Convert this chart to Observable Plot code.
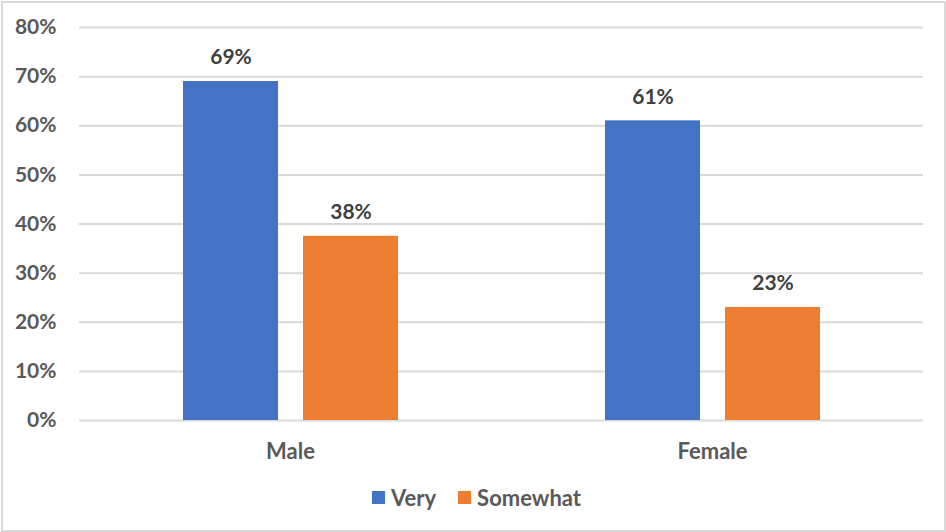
<!DOCTYPE html>
<html>
<head>
<meta charset="utf-8">
<script src="https://cdn.jsdelivr.net/npm/d3@7"></script>
<script src="https://cdn.jsdelivr.net/npm/@observablehq/plot@0.6"></script>
<style>
  html, body { margin: 0; padding: 0; background: #fff; }
  #wrap { position: relative; width: 946px; height: 532px; overflow: hidden; font-family: Lato, "Open Sans", sans-serif; }
  #frame { position: absolute; left: 1px; top: 1px; width: 941px; height: 527px; border: 2px solid #d9d9d9; pointer-events: none; }
  #chart { position: absolute; left: 0; top: 0; }
  #legend { position: absolute; left: 372px; top: 484px; display: flex; align-items: center; font-weight: bold; font-size: 22px; color: #595959; }
  .sw { width: 13px; height: 13px; display: inline-block; margin-right: 6px; }
  .item { display: flex; align-items: center; margin-right: 22px; }
</style>
</head>
<body>
<div id="wrap">
  <div id="chart"></div>
  <div id="legend"></div>
  <div id="frame"></div>
</div>
<script>
const genders = ["Male", "Female"];
const series = ["Very", "Somewhat"];
const veryValues = [69, 61];
const somewhatValues = [37.5, 23];
const yTicks = [0, 10, 20, 30, 40, 50, 60, 70, 80];
const colors = ["#4472C4", "#ED7D31"];

const data = [];
genders.forEach((g, i) => {
  data.push({gender: g, series: "Very", value: veryValues[i]});
  data.push({gender: g, series: "Somewhat", value: somewhatValues[i]});
});

const chart = Plot.plot({
  width: 946,
  height: 470,
  marginLeft: 79,
  marginRight: 23,
  marginTop: 27,
  marginBottom: 50,
  style: {fontFamily: "Lato, 'Open Sans', sans-serif", background: "transparent"},
  fx: {domain: genders, padding: 0, label: null},
  x: {domain: series, paddingInner: 0.21, paddingOuter: 0.86, axis: null},
  y: {domain: [0, 80], axis: null},
  color: {domain: series, range: colors},
  marks: [
    Plot.gridY(yTicks, {stroke: "#d9d9d9", strokeOpacity: 1, strokeWidth: 2}),
    Plot.axisY({ticks: yTicks, tickFormat: d => d + "%", tickSize: 0, tickPadding: 23, fontSize: 21, fontWeight: "bold", fill: "#595959", label: null}),
    Plot.axisFx({anchor: "bottom", tickSize: 0, tickPadding: 23, fontSize: 22, fontWeight: "bold", fill: "#595959", label: null}),
    Plot.barY(data, {fx: "gender", x: "series", y: "value", fill: "series"}),
    Plot.text(data, {fx: "gender", x: "series", y: "value", text: d => Math.round(d.value) + "%", dy: -24, fontSize: 21, fontWeight: "bold", fill: "#404040"})
  ]
});
document.getElementById("chart").appendChild(chart);

const legend = document.getElementById("legend");
series.forEach((s, i) => {
  const item = document.createElement("div");
  item.className = "item";
  const sw = document.createElement("span");
  sw.className = "sw";
  sw.style.background = colors[i];
  item.appendChild(sw);
  const t = document.createElement("span");
  t.textContent = s;
  item.appendChild(t);
  legend.appendChild(item);
});
</script>
</body>
</html>
